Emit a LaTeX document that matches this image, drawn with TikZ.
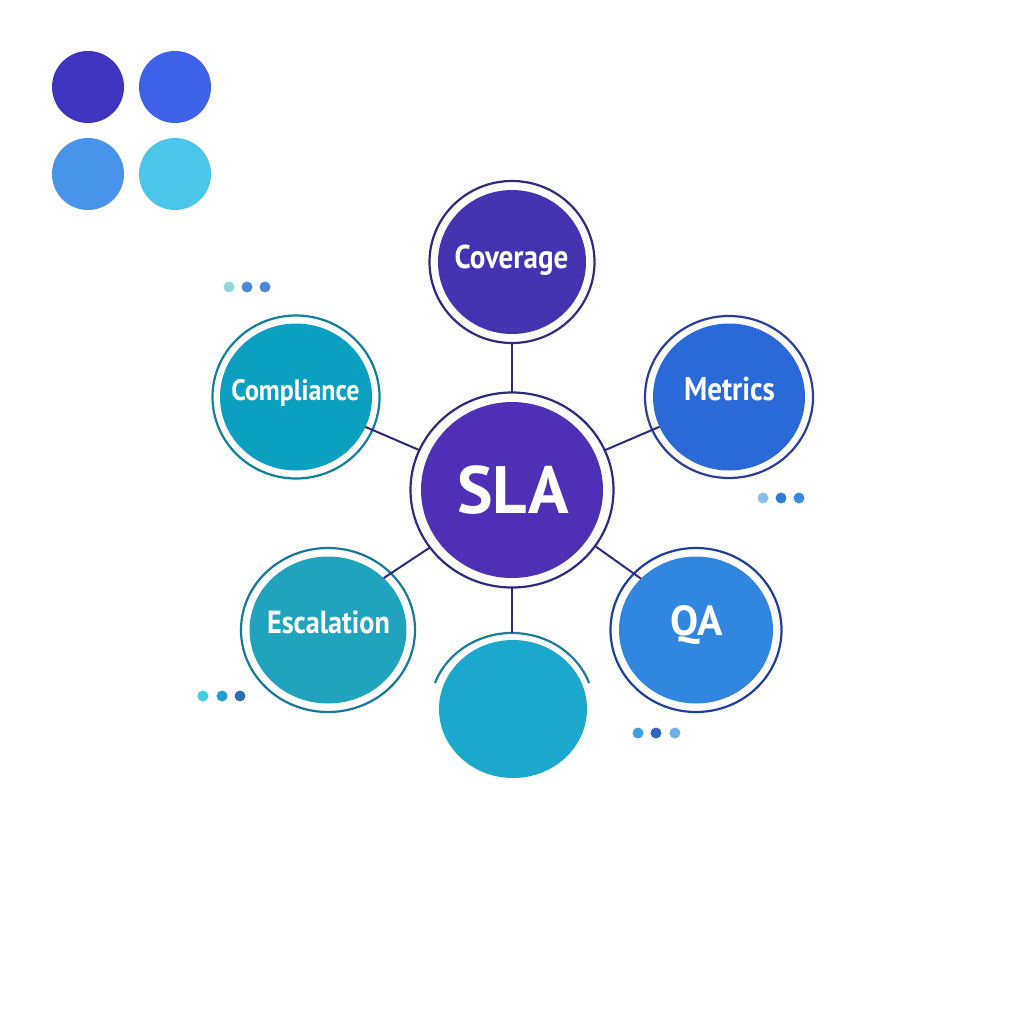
\documentclass[tikz,border=0pt]{standalone}
\usepackage{fontspec}
\setmainfont{PT Sans}
\newfontfamily\narrowfont[FakeStretch=0.88]{PT Sans}
\usetikzlibrary{shapes.geometric}

\definecolor{linkcol}{HTML}{2E2A7C}
\definecolor{indigo}{HTML}{4433B0}
\definecolor{violet}{HTML}{4F2FB5}

\begin{document}
\begin{tikzpicture}[x=1pt,y=-1pt,
	disc/.style={ellipse,inner sep=0pt,outer sep=0pt},
	ring/.style={ellipse,draw,line width=2.2pt,inner sep=0pt,outer sep=0pt},
	caption/.style={anchor=base,inner sep=0pt,text=white,font=\narrowfont\bfseries\fontsize{33}{33}\selectfont},
	swatch/.style={circle,inner sep=0pt,outer sep=0pt,minimum size=72pt},
	dot/.style={circle,inner sep=0pt,outer sep=0pt,minimum size=11pt},
	link/.style={draw=linkcol,line width=2pt}]
	\useasboundingbox (0,0) rectangle (1024,1024);

	\node[swatch,fill={rgb,255:red,63;green,51;blue,192}] (swatch_a) at (88,87) {};
	\node[swatch,fill={rgb,255:red,62;green,97;blue,234}] (swatch_b) at (175,87) {};
	\node[swatch,fill={rgb,255:red,72;green,148;blue,234}] (swatch_c) at (88,174) {};
	\node[swatch,fill={rgb,255:red,76;green,197;blue,234}] (swatch_d) at (175,174) {};

	\node[disc,fill=violet,minimum width=182pt,minimum height=176pt] (sla) at (512,490) {};
	\node[ring,draw=linkcol,minimum width=203pt,minimum height=195pt] (sla_ring) at (512,490) {};
	\node[caption,font=\bfseries\fontsize{67}{67}\selectfont] (sla_text) at (513,513) {SLA};

	\node[disc,fill=indigo,minimum width=148pt,minimum height=144pt] (coverage) at (512,262) {};
	\node[ring,draw=linkcol,minimum width=165pt,minimum height=162pt] (coverage_ring) at (512,262) {};
	\node[caption] (coverage_text) at (511.5,268) {Coverage};

	\node[disc,fill={rgb,255:red,42;green,106;blue,216},minimum width=152pt,minimum height=147pt] (metrics) at (729,397) {};
	\node[ring,draw={rgb,255:red,43;green,63;blue,154},minimum width=168pt,minimum height=162pt] (metrics_ring) at (729,397) {};
	\node[caption] (metrics_text) at (729.5,400) {Metrics};

	\node[disc,fill={rgb,255:red,11;green,160;blue,191},minimum width=152pt,minimum height=147pt] (compliance) at (296,397) {};
	\node[ring,draw={rgb,255:red,15;green,127;blue,154},minimum width=167pt,minimum height=163pt] (compliance_ring) at (296,397) {};
	\node[caption,font=\narrowfont\bfseries\fontsize{29.5}{30}\selectfont] (compliance_text) at (295.5,400) {Compliance};

	\node[disc,fill={rgb,255:red,32;green,163;blue,189},minimum width=157pt,minimum height=147pt] (escalation) at (328,630) {};
	\node[ring,draw={rgb,255:red,22;green,121;blue,154},minimum width=174pt,minimum height=164pt] (escalation_ring) at (328,630) {};
	\node[caption,font=\narrowfont\bfseries\fontsize{32}{32}\selectfont] (escalation_text) at (328.5,633) {Escalation};

	\node[disc,fill={rgb,255:red,49;green,134;blue,224},minimum width=154pt,minimum height=147pt] (qa) at (696,630) {};
	\node[ring,draw={rgb,255:red,31;green,63;blue,159},minimum width=171pt,minimum height=164pt] (qa_ring) at (696,630) {};
	\node[caption,font=\bfseries\fontsize{42}{42}\selectfont] (qa_text) at (697,635) {QA};

	\node[disc,fill={rgb,255:red,28;green,168;blue,204},minimum width=148pt,minimum height=138pt] (open_disc) at (513,709) {};
	\draw[draw={rgb,255:red,26;green,127;blue,150},line width=2.2pt] (435,683) arc[start angle=200,end angle=340,x radius=82,y radius=76];
	\coordinate (open_arc) at (512,633);

	\draw[link] (sla_ring) -- (coverage_ring);
	\draw[link] (sla_ring) -- (metrics);
	\draw[link] (sla_ring) -- (compliance);
	\draw[link] (sla_ring.215) -- (escalation.43);
	\draw[link] (sla_ring.326) -- (qa.137);
	\draw[link] (sla_ring) -- (open_arc);

	\node[dot,fill={rgb,255:red,143;green,216;blue,220}] (compliance_dot_a) at (229,287) {};
	\node[dot,fill={rgb,255:red,79;green,136;blue,216}] (compliance_dot_b) at (247,287) {};
	\node[dot,fill={rgb,255:red,79;green,136;blue,216}] (compliance_dot_c) at (265,287) {};

	\node[dot,fill={rgb,255:red,140;green,188;blue,232}] (metrics_dot_a) at (763,498) {};
	\node[dot,fill={rgb,255:red,47;green,124;blue,216}] (metrics_dot_b) at (781,498) {};
	\node[dot,fill={rgb,255:red,59;green,138;blue,224}] (metrics_dot_c) at (799,498) {};

	\node[dot,fill={rgb,255:red,58;green,160;blue,230}] (qa_dot_a) at (638,733) {};
	\node[dot,fill={rgb,255:red,47;green,104;blue,192}] (qa_dot_b) at (656,733) {};
	\node[dot,fill={rgb,255:red,108;green,176;blue,228}] (qa_dot_c) at (675,733) {};

	\node[dot,fill={rgb,255:red,63;green,205;blue,224}] (escalation_dot_a) at (203,696) {};
	\node[dot,fill={rgb,255:red,31;green,160;blue,208}] (escalation_dot_b) at (222,696) {};
	\node[dot,fill={rgb,255:red,42;green,112;blue,176}] (escalation_dot_c) at (240,696) {};
\end{tikzpicture}
\end{document}
